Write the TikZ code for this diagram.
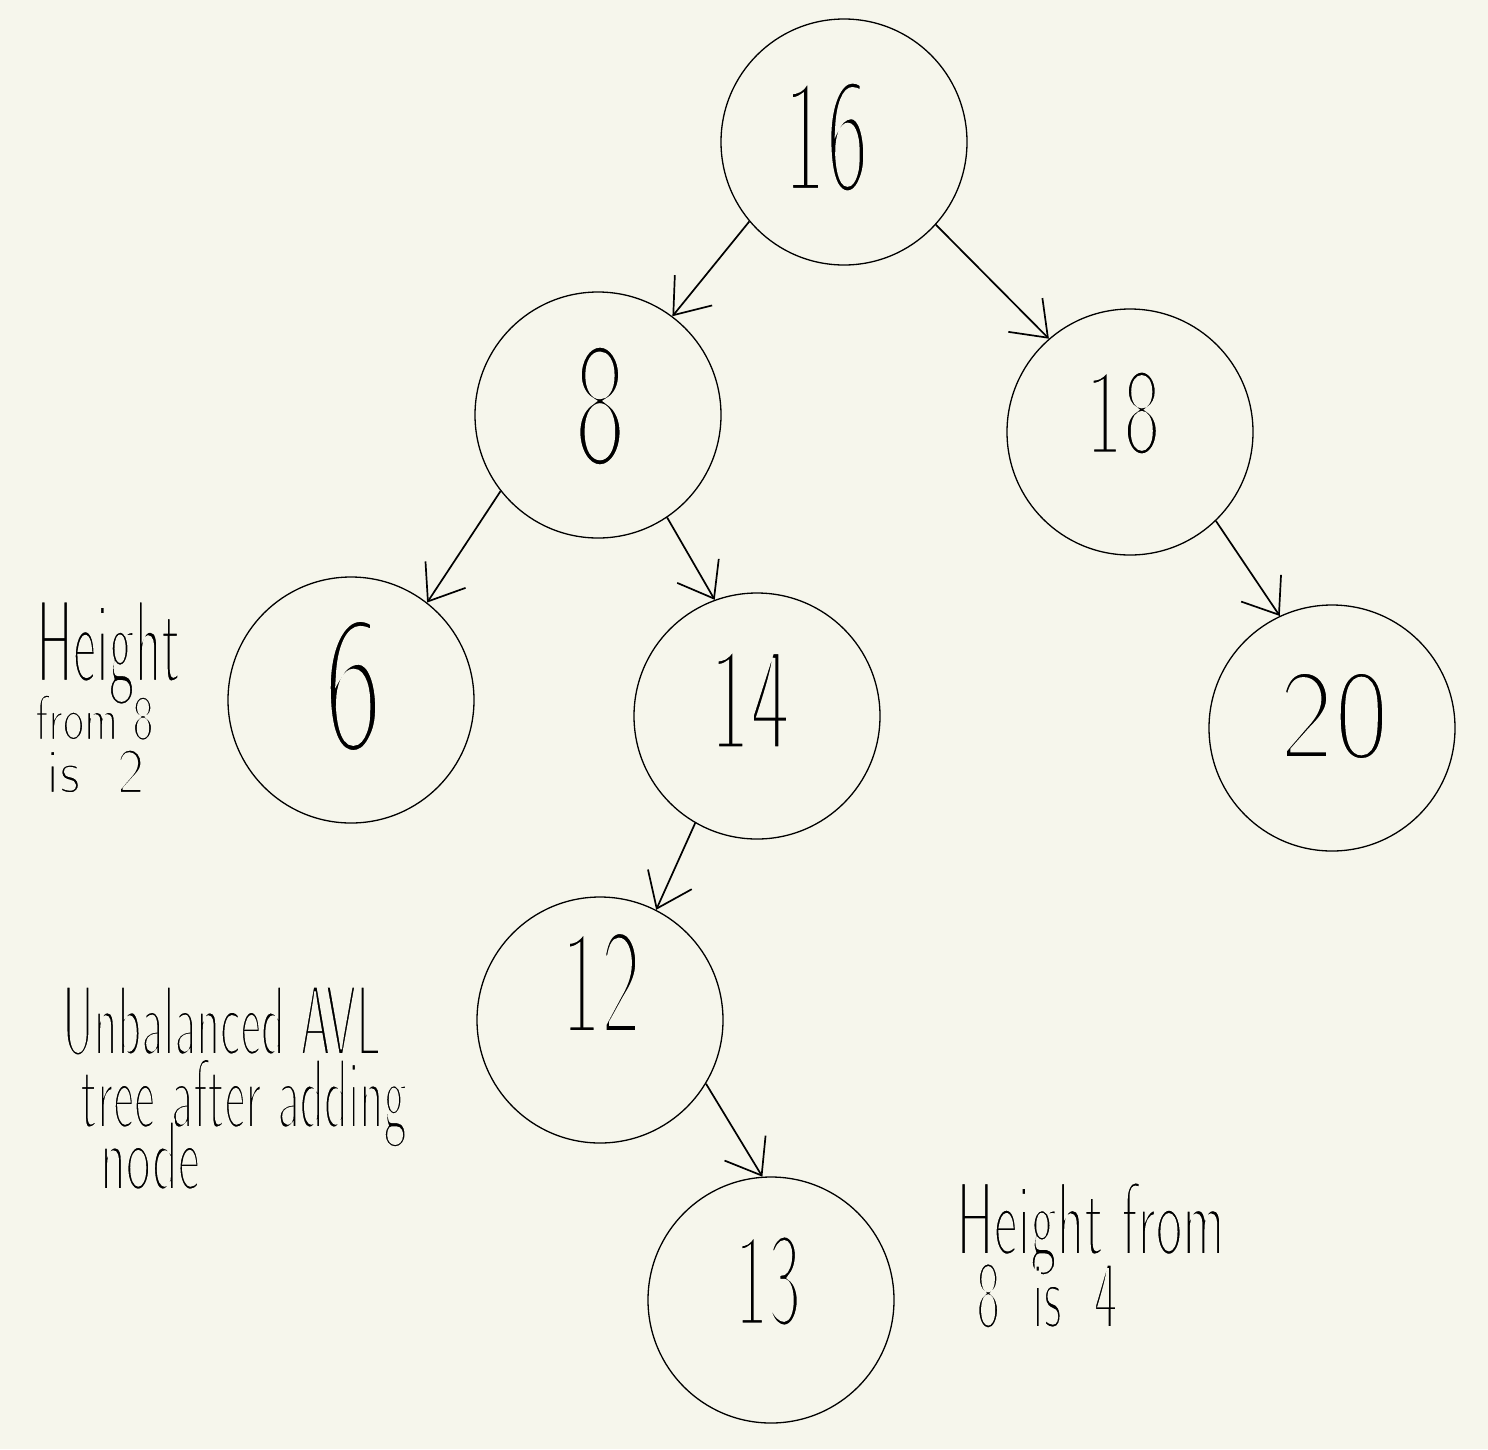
\documentclass[tikz,border=0pt]{standalone}
\usepackage{fontspec}
\usetikzlibrary{arrows.meta}
\definecolor{paper}{HTML}{F6F6EC}
% horizontally squeezed, thinned-down pen-like text
\newcommand\hw[3][0.55]{\scalebox{#1}[1]{\special{pdf:literal direct 2 Tr 0.965 0.965 0.925 RG #2 w}#3\special{pdf:literal direct 0 Tr 0 0 0 RG}}}
\begin{document}
\begin{tikzpicture}[x=1pt,y=-1pt,
 circ/.style={circle,draw,line width=1.3pt,minimum size=246pt,inner sep=0pt},
 num/.style={font=\sffamily\fontsize{#1}{#1}\selectfont,inner sep=0pt},
 note/.style={font=\sffamily\fontsize{#1}{#1}\selectfont,inner sep=0pt,anchor=base west},
 arr/.style={line width=1.7pt,-{Straight Barb[length=32pt,width=48pt,line width=1.7pt]}},
]
\fill[paper] (0,0) rectangle (1488,1449);
\useasboundingbox (0,0) rectangle (1488,1449);

% circles
\node[circ] (n16) at (844,142) {};
\node[circ] (n8)  at (598,415) {};
\node[circ] (n18) at (1130,432) {};
\node[circ] (n6)  at (351,700) {};
\node[circ] (n14) at (757,716) {};
\node[circ] (n20) at (1332,728) {};
\node[circ] (n12) at (600,1020) {};
\node[circ] (n13) at (771,1300) {};

% numbers
\node[num=165] (t16) at (826,137) {\hw[0.55]{6.5}{16}};
\node[num=180] (t8)  at (600,406) {\hw[0.62]{7}{8}};
\node[num=125] (t18) at (1123,413) {\hw[0.64]{5}{18}};
\node[num=198] (t6)  at (353,686) {\hw[0.64]{8}{6}};
\node[num=150] (t14) at (750,699) {\hw[0.57]{6}{14}};
\node[num=130] (t20) at (1334,716) {\hw[0.9]{5}{20}};
\node[num=152] (t12) at (601,982) {\hw[0.56]{6}{12}};
\node[num=135] (t13) at (768,1281) {\hw[0.52]{5.5}{13}};

% arrows
\draw[arr] (n16.220) -- (n8.53.5);
\draw[arr] (n16.-42.5) -- (n18.131);
\draw[arr] (n8.218) -- (n6.52.5);
\draw[arr] (n8.-56.3) -- (n14.110.4);
\draw[arr] (n18.-46.6) -- (n20.115.7);
\draw[arr] (n14.240.6) -- (n12.63.4);
\draw[arr] (n12.-31.3) -- (n13.94.2);

% annotations
\node[note=118] (a1) at (36,682) {\hw[0.47]{4.5}{Height}};
\node[note=65]  (a2) at (35,740) {\hw[0.7]{2.5}{from 8}};
\node[note=65]  (a3) at (46,793) {\hw[0.9]{2.5}{is\ \ 2}};

\node[note=100] (b1) at (62,1055) {\hw[0.49]{4}{Unbalanced AVL}};
\node[note=100] (b2) at (80,1128) {\hw[0.5]{4}{tree after adding}};
\node[note=100] (b3) at (100,1190) {\hw[0.53]{4}{node}};

\node[note=105] (c1) at (956,1255) {\hw[0.54]{4}{Height from}};
\node[note=98]  (c2) at (976,1328) {\hw[0.52]{4}{8\ \ is\ \ 4}};
\end{tikzpicture}
\end{document}
